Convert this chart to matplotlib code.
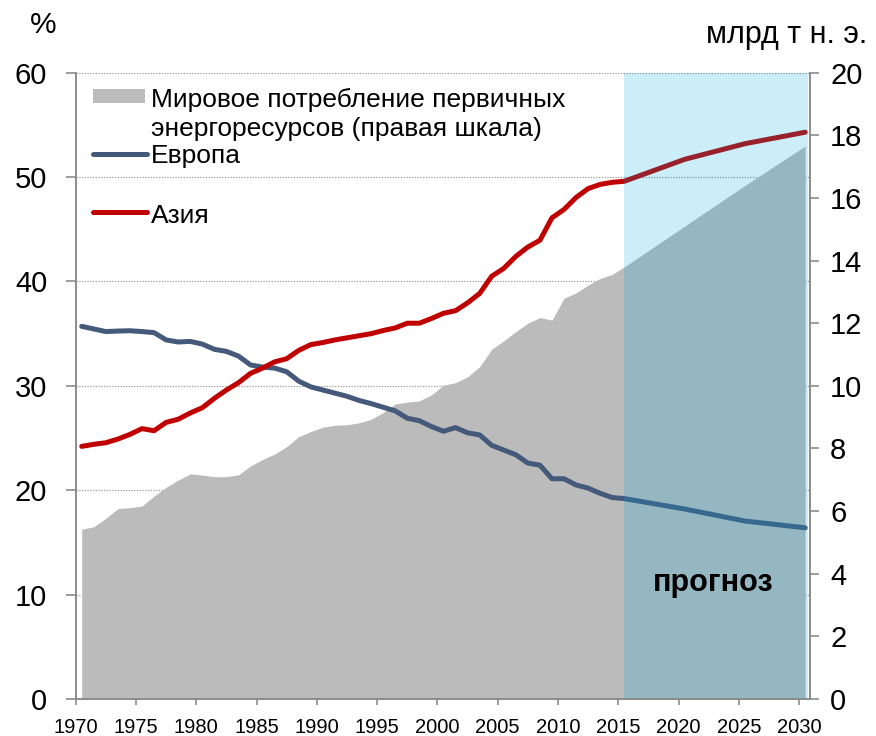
import numpy as np
import matplotlib
matplotlib.use('Agg')
import matplotlib.pyplot as plt
from matplotlib.lines import Line2D
from matplotlib.patches import Rectangle

plt.rcParams['font.family'] = ['Liberation Sans', 'DejaVu Sans']

#Data

years = list(range(1970, 2016)) + [2020, 2025, 2030]

europe = [35.7, 35.45, 35.2, 35.25, 35.28, 35.2, 35.1, 34.4, 34.2, 34.26,
          34.0, 33.5, 33.3, 32.85, 32.0, 31.8, 31.7, 31.35, 30.45, 29.9,
          29.6, 29.3, 29.0, 28.6, 28.3, 27.95, 27.6, 26.9, 26.66, 26.1,
          25.65, 26.0, 25.5, 25.3, 24.3, 23.85, 23.4, 22.6, 22.4, 21.1,
          21.1, 20.5, 20.2, 19.7, 19.3, 19.2,
          18.2, 17.05, 16.4]

asia = [24.2, 24.4, 24.55, 24.9, 25.35, 25.9, 25.7, 26.5, 26.8, 27.4,
        27.9, 28.8, 29.6, 30.3, 31.2, 31.7, 32.3, 32.6, 33.4, 33.95,
        34.15, 34.4, 34.6, 34.8, 35.0, 35.3, 35.55, 36.0, 36.0, 36.45,
        36.95, 37.2, 37.95, 38.85, 40.5, 41.25, 42.4, 43.3, 43.95, 46.1,
        46.9, 48.05, 48.9, 49.3, 49.5, 49.6,
        51.7, 53.2, 54.3]

world = [5.42, 5.50, 5.77, 6.08, 6.11, 6.16, 6.48, 6.76, 6.99, 7.19,
         7.15, 7.10, 7.10, 7.16, 7.44, 7.65, 7.82, 8.06, 8.38, 8.54,
         8.68, 8.74, 8.76, 8.82, 8.93, 9.15, 9.42, 9.48, 9.52, 9.71,
         10.02, 10.1, 10.29, 10.61, 11.17, 11.44, 11.73, 12.0, 12.18, 12.1,
         12.8, 12.97, 13.22, 13.43, 13.56, 13.8,
         15.1, 16.4, 17.66]

forecast_start = 2015
tick_years = list(range(1970, 2031, 5))
left_ticks = list(range(0, 61, 10))
right_ticks = list(range(0, 21, 2))

lbl_world = ['Мировое потребление первичных', 'энергоресурсов (правая шкала)']
lbl_europe = 'Европа'
lbl_asia = 'Азия'

c_europe = '#45597A'
c_asia = '#C00000'
c_world = '#BBBBBB'
c_axis = '#8C8C8C'

#Figure

fig = plt.figure(figsize=(8.76, 7.36), dpi=100)
ax = fig.add_axes([0.0864, 0.0503, 0.8383, 0.8509])
ax2 = ax.twinx()

ax.set_axisbelow(True)

ax.fill_between(years, world, 0, color=c_world, lw=0, transform=ax2.transData, zorder=1)
ax.plot(years, europe, color=c_europe, lw=3.6, solid_capstyle='round', solid_joinstyle='round', zorder=2)
ax.plot(years, asia, color=c_asia, lw=3.6, solid_capstyle='round', solid_joinstyle='round', zorder=2)
ax.axvspan(forecast_start, 2030.2, color='#00AAE1', alpha=0.2, lw=0, zorder=3)

ax.text(2022.4, 11.1, 'прогноз', fontsize=22, fontweight='bold', ha='center', va='center', zorder=4)

ax.set_xlim(1969.5, 2030.4)
ax.set_ylim(0, 60)
ax2.set_ylim(0, 20)

ax.set_xticks([y - 0.5 for y in tick_years])
ax.set_xticklabels([str(y) for y in tick_years], fontsize=14.5)
ax.set_yticks(left_ticks)
ax.set_yticklabels([str(v) for v in left_ticks], fontsize=21)
ax2.set_yticks(right_ticks)
ax2.set_yticklabels([str(v) for v in right_ticks], fontsize=21)

ax.yaxis.grid(True, linestyle=(0, (1, 1.2)), color='#999999', lw=0.9)
ax.tick_params(axis='y', length=7, width=1.2, color=c_axis, pad=13.5)
ax.tick_params(axis='x', length=4.5, width=1.2, color=c_axis, pad=9)
ax2.tick_params(axis='y', length=6.5, width=1.2, color=c_axis, pad=8)

for a in (ax, ax2):
	a.spines['top'].set_visible(False)
	for s in ('left', 'right', 'bottom'):
		a.spines[s].set_color(c_axis)
		a.spines[s].set_linewidth(1.2)

fig.text(43/876, 1-25/736, '%', fontsize=21.5, ha='center', va='center')
fig.text(867/876, 1-35/736, 'млрд т н. э.', fontsize=22, ha='right', va='center')

#Legend (drawn by hand, Excel style)

fig.patches.append(Rectangle((0.1058, 0.8605), 0.0597, 0.0186, transform=fig.transFigure, color=c_world, lw=0))
fig.lines.append(Line2D([0.1058, 0.1678], [0.7904, 0.7904], transform=fig.transFigure, color=c_europe, lw=3.6, solid_capstyle='round'))
fig.lines.append(Line2D([0.1058, 0.1678], [0.7115, 0.7115], transform=fig.transFigure, color=c_asia, lw=3.6, solid_capstyle='round'))
fig.text(0.1724, 0.855, lbl_world[0], fontsize=19, va='baseline')
fig.text(0.1724, 0.8152, lbl_world[1], fontsize=19, va='baseline')
fig.text(0.1724, 0.7781, lbl_europe, fontsize=19, va='baseline')
fig.text(0.1724, 0.6974, lbl_asia, fontsize=19, va='baseline')

fig.savefig('out.png', dpi=100)
